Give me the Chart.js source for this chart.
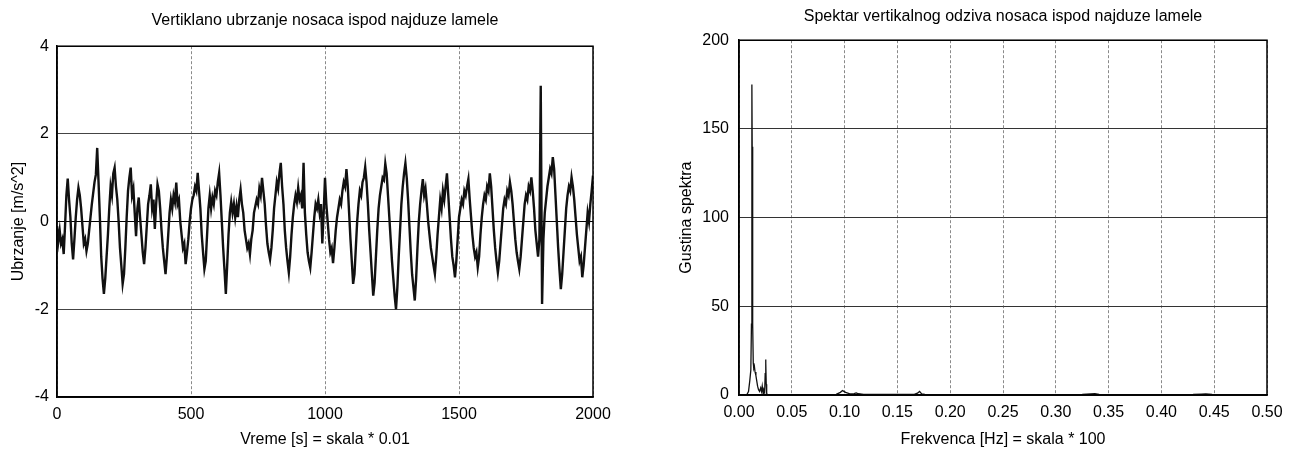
<!DOCTYPE html>
<html><head><meta charset="utf-8">
<script src="https://cdn.jsdelivr.net/npm/chart.js@4.4.0/dist/chart.umd.min.js"></script>
<style>
html,body{margin:0;padding:0;background:#fff;overflow:hidden;width:1291px;height:449px;}
#c1{position:absolute;left:0;top:0;}
#c2{position:absolute;left:672px;top:0;}
</style></head><body>
<canvas id="c1" width="650" height="449"></canvas>
<canvas id="c2" width="638" height="449"></canvas>
<script>
// ---- Left chart: vertical acceleration (sampled every 5 scale units, 0..2000) ----
const sampleStep = 5;
const accel = [
-0.1,-0.45,-0.2,-0.5,-0.4,-0.74,-0.1,0.6,0.98,0.5,0.1,-0.5,-0.86,-0.4,0.1,0.5,0.77,0.6,0.3,-0.1,
-0.5,-0.4,-0.67,-0.5,-0.2,0.1,0.4,0.65,0.9,1.07,1.68,0.9,0.1,-0.8,-1.3,-1.65,-1.3,-0.8,-0.3,0.3,
0.8,0.6,1.1,1.23,0.8,0.5,0.0,-0.6,-1.0,-1.42,-1.2,-0.6,0.1,0.7,1.0,1.23,0.6,0.75,0.2,-0.33,
0.3,0.55,0.1,-0.3,-0.7,-0.97,-0.6,-0.1,0.4,0.6,0.85,0.3,0.5,-0.17,0.4,0.85,0.7,0.3,-0.2,-0.6,
-0.9,-1.2,-0.8,-0.3,0.2,0.5,0.3,0.6,0.45,0.89,0.4,0.5,0.0,-0.3,-0.6,-0.5,-0.97,-0.7,-0.4,0.0,
0.3,0.5,0.6,0.8,0.7,1.11,0.7,0.3,-0.3,-0.7,-1.08,-0.9,-0.3,0.3,0.6,0.3,0.55,0.4,0.7,0.6,
0.9,1.11,0.6,0.0,-0.6,-1.1,-1.65,-1.0,-0.3,0.2,0.45,0.2,0.4,0.1,0.35,0.1,0.5,0.73,0.4,0.2,
-0.2,-0.4,-0.6,-0.5,-0.74,-0.4,-0.2,0.2,0.35,0.5,0.4,0.75,0.6,1.0,0.7,0.4,-0.1,-0.5,-0.7,-0.86,
-0.6,-0.2,0.3,0.6,0.9,0.75,1.1,1.34,0.8,0.4,-0.2,-0.6,-0.9,-1.16,-0.8,-0.3,0.1,0.4,0.6,0.45,
0.77,0.5,0.6,0.3,1.34,0.2,-0.3,-0.7,-0.9,-1.05,-0.7,-0.3,0.1,0.4,0.3,0.5,0.2,0.4,-0.5,0.2,
1.0,0.4,0.0,-0.4,-0.7,-0.6,-0.95,-0.6,-0.2,0.1,0.3,0.5,0.4,0.7,0.9,0.8,1.2,0.8,0.2,-0.4,
-0.9,-1.42,-1.2,-0.6,0.0,0.4,0.7,0.6,0.9,1.0,1.24,0.9,0.4,-0.2,-0.7,-1.2,-1.69,-1.4,-0.8,-0.2,
0.3,0.6,0.8,1.0,0.95,1.32,1.1,0.6,0.1,-0.4,-0.9,-1.3,-1.7,-2.0,-1.5,-0.8,-0.2,0.4,0.8,1.1,
1.33,1.0,0.5,-0.1,-0.7,-1.2,-1.5,-1.8,-1.3,-0.6,0.0,0.4,0.7,0.97,0.6,0.75,0.4,0.0,-0.3,-0.6,
-0.8,-1.0,-1.19,-0.8,-0.3,0.1,0.5,0.3,0.7,0.5,0.8,1.1,0.6,0.1,-0.4,-0.8,-1.0,-1.27,-0.9,-0.4,
0.1,0.3,0.5,0.4,0.7,0.6,0.8,0.97,0.5,0.1,-0.3,-0.6,-0.8,-0.7,-1.04,-0.8,-0.3,0.1,0.4,0.6,
0.5,0.8,0.7,1.1,0.8,0.3,-0.2,-0.6,-0.9,-1.16,-0.9,-0.5,-0.1,0.3,0.5,0.4,0.7,0.6,0.9,0.7,
0.4,0.0,-0.4,-0.7,-0.9,-1.08,-0.8,-0.4,0.0,0.4,0.6,0.5,0.8,0.7,1.01,0.7,0.3,-0.2,-0.5,-0.8,
-0.4,3.1,-1.88,-0.4,0.2,0.5,0.8,1.0,1.2,1.1,1.47,1.2,0.6,0.0,-0.6,-1.1,-1.54,-1.2,-0.7,-0.2,
0.3,0.6,0.8,0.7,1.01,0.8,0.5,0.1,-0.3,-0.6,-0.9,-0.8,-1.27,-1.0,-0.6,-0.2,0.2,0.0,0.4,0.7,
1.05
];
const timeTicks = [0, 500, 1000, 1500, 2000];
const accelTicks = [-4, -2, 0, 2, 4];

// ---- Right chart: spectrum ----
const specFreq = [0,0.005,0.0075,0.009,0.0102,0.0112,0.0118,0.0122,0.0125,0.0128,0.0131,0.0135,0.0140,0.0146,0.0152,0.0160,0.0168,0.0176,0.0185,0.0195,0.0205,0.0213,0.0220,0.0228,0.0236,0.0243,0.0248,0.0252,0.0255,0.0258,0.0262,0.0268,0.0280,0.035,0.045,0.060,0.080,0.092,0.096,0.098,0.101,0.105,0.109,0.111,0.113,0.118,0.130,0.150,0.166,0.169,0.171,0.173,0.176,0.190,0.220,0.260,0.300,0.325,0.333,0.337,0.341,0.360,0.400,0.430,0.438,0.442,0.448,0.470,0.500];
const specDensity = [0,0,0.3,2,8,14,40,175,140,70,40,18,15,16,13,11,8,5,3,2,4,2,5,1,3,2,12,20,18,6,1,0.3,0.2,0.2,0.2,0.2,0.2,0.4,1.5,2.5,1.5,0.6,0.8,1.2,0.7,0.3,0.3,0.3,0.3,1.0,2.0,0.6,0.3,0.2,0.2,0.2,0.2,0.3,0.6,0.8,0.4,0.2,0.2,0.3,0.5,0.6,0.3,0.2,0.2];
const freqTicks = [0,0.05,0.10,0.15,0.20,0.25,0.30,0.35,0.40,0.45,0.50];
const densityTicks = [0,50,100,150,200];

const FONT = '"Liberation Sans", Arial, Helvetica, sans-serif';
Chart.defaults.font.family = FONT;
Chart.defaults.color = '#000';

const framePlugin = {
  id: 'frame',
  afterDatasetsDraw(chart) {
    const {ctx, chartArea: a} = chart;
    ctx.save();
    ctx.strokeStyle = '#000';
    ctx.lineWidth = 1.5;
    ctx.strokeRect(a.left, a.top, a.right - a.left, a.bottom - a.top);
    ctx.restore();
  }
};

function ticksFrom(list) {
  return function(scale) { scale.ticks = list.map(v => ({value: v})); };
}

const accelPoints = accel.map((v, i) => ({x: i * sampleStep, y: v}));
const specPoints = specFreq.map((f, i) => ({x: f, y: specDensity[i]}));

new Chart(document.getElementById('c1'), {
  type: 'line',
  data: { datasets: [{
    data: accelPoints, borderColor: '#111', borderWidth: 2.4, pointRadius: 0, tension: 0, fill: false
  }]},
  options: {
    responsive: false, animation: false, devicePixelRatio: 1,
    layout: { padding: {left: 0, right: 57, top: 0, bottom: 0} },
    plugins: {
      legend: {display: false}, tooltip: {enabled: false},
      title: { display: true, text: 'Vertiklano ubrzanje nosaca ispod najduze lamele',
        font: {size: 16, weight: 'normal'}, color: '#000', padding: {top: 11, bottom: 16}, fullSize: false }
    },
    scales: {
      x: {
        type: 'linear', min: 0, max: 2000,
        afterBuildTicks: ticksFrom(timeTicks),
        afterFit: s => { s.height = 52; },
        ticks: { font: {size: 16}, color: '#000', padding: 8, maxRotation: 0, autoSkip: false,
                 callback: v => String(v) },
        grid: { color: '#8a8a8a', lineWidth: 1, drawTicks: false },
        border: { display: true, color: '#000', width: 1.5, dash: [3, 2] },
        title: { display: true, text: 'Vreme [s] = skala * 0.01', font: {size: 16}, color: '#000', padding: {top: 0, bottom: 0} }
      },
      y: {
        type: 'linear', min: -4, max: 4,
        afterBuildTicks: ticksFrom(accelTicks),
        afterFit: s => { s.width = 57; },
        ticks: { font: {size: 16}, color: '#000', padding: 8, callback: v => String(v) },
        grid: { color: c => (c.tick && c.tick.value === 0) ? '#000' : '#444', lineWidth: 1, drawTicks: false },
        border: { display: true, color: '#000', width: 1.5 },
        title: { display: true, text: 'Ubrzanje [m/s^2]', font: {size: 16}, color: '#000', padding: {top: 9, bottom: 0} }
      }
    }
  },
  plugins: [framePlugin]
});

new Chart(document.getElementById('c2'), {
  type: 'line',
  data: { datasets: [{
    data: specPoints, borderColor: '#111', borderWidth: 1.3, pointRadius: 0, tension: 0, fill: false
  }]},
  options: {
    responsive: false, animation: false, devicePixelRatio: 1,
    layout: { padding: {left: 0, right: 43, top: 0, bottom: 0} },
    plugins: {
      legend: {display: false}, tooltip: {enabled: false},
      title: { display: true, text: 'Spektar vertikalnog odziva nosaca ispod najduze lamele',
        font: {size: 16, weight: 'normal'}, color: '#000', padding: {top: 7, bottom: 14}, fullSize: false }
    },
    scales: {
      x: {
        type: 'linear', min: 0, max: 0.5,
        afterBuildTicks: ticksFrom(freqTicks),
        afterFit: s => { s.height = 54; },
        ticks: { font: {size: 16}, color: '#000', padding: 8, maxRotation: 0, autoSkip: false,
                 callback: v => Number(v).toFixed(2) },
        grid: { color: '#8a8a8a', lineWidth: 1, drawTicks: false },
        border: { display: true, color: '#000', width: 1.5, dash: [3, 2] },
        title: { display: true, text: 'Frekvenca [Hz] = skala * 100', font: {size: 16}, color: '#000', padding: {top: 0, bottom: 0} }
      },
      y: {
        type: 'linear', min: 0, max: 200,
        afterBuildTicks: ticksFrom(densityTicks),
        afterFit: s => { s.width = 67; },
        ticks: { font: {size: 16}, color: '#000', padding: 10, callback: v => String(v) },
        grid: { color: '#333', lineWidth: 1, drawTicks: false },
        border: { display: true, color: '#000', width: 1.5 },
        title: { display: true, text: 'Gustina spektra', font: {size: 16}, color: '#000', padding: {top: 5, bottom: 0} }
      }
    }
  },
  plugins: [framePlugin]
});
</script>
</body></html>
